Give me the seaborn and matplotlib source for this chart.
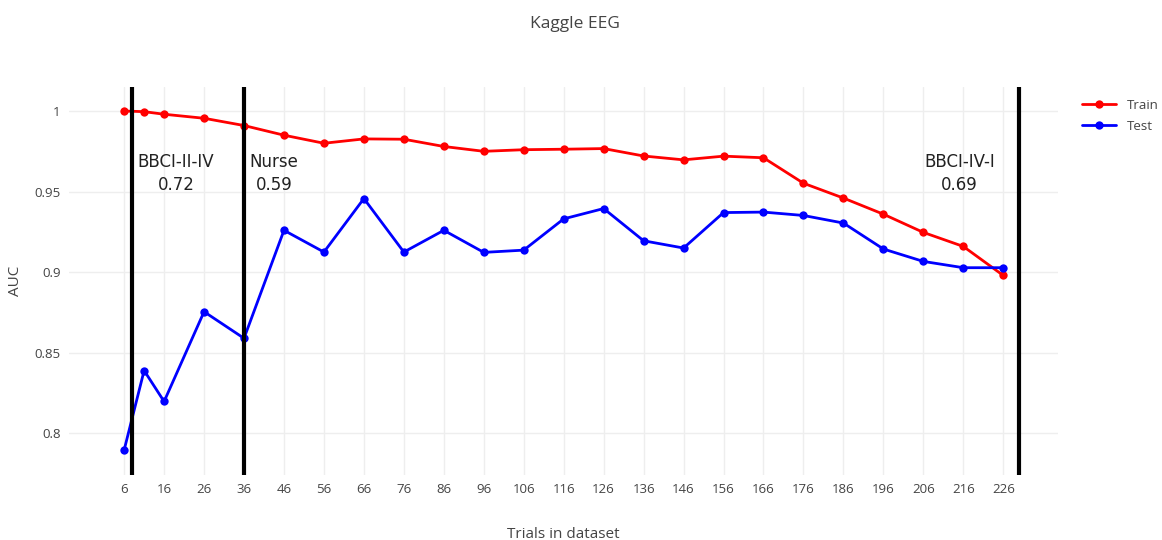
import matplotlib
matplotlib.use("Agg")
import matplotlib.pyplot as plt
from matplotlib.font_manager import FontProperties
import seaborn as sns
import pandas as pd
import numpy as np

trials = [6, 11, 16, 26, 36, 46, 56, 66, 76, 86, 96, 106, 116, 126, 136, 146,
          156, 166, 176, 186, 196, 206, 216, 226]
train_auc = [1.000, 0.9996, 0.998, 0.9955, 0.991, 0.985, 0.980, 0.9827, 0.9825,
             0.978, 0.975, 0.976, 0.9763, 0.9767, 0.9721, 0.9697, 0.972, 0.971,
             0.9552, 0.946, 0.936, 0.9247, 0.916, 0.898]
test_auc = [0.7897, 0.839, 0.8198, 0.8755, 0.859, 0.926, 0.9125, 0.9457, 0.9125,
            0.926, 0.9123, 0.9137, 0.9331, 0.9395, 0.9195, 0.915, 0.937, 0.9373,
            0.9352, 0.9305, 0.9144, 0.9067, 0.9028, 0.9028]
xticks = list(range(6, 227, 10))
yticks = [0.8, 0.85, 0.9, 0.95, 1.0]
ytick_labels = ["0.8", "0.85", "0.9", "0.95", "1"]
boundaries = [8, 36, 230]
ann_x = [19, 43.5, 215]
ann_text = ["BBCI-II-IV\n0.72", "Nurse\n0.59", "BBCI-IV-I\n0.69"]

sns.set_theme(style="white")
plt.rcParams['font.family'] = ['Open Sans', 'DejaVu Sans']

df = pd.DataFrame({
    "Trials": trials * 2,
    "AUC": train_auc + test_auc,
    "Series": ["Train"] * len(trials) + ["Test"] * len(trials),
})

fig = plt.figure(figsize=(11.62, 5.4), dpi=100)
ax = fig.add_axes([69 / 1162, 65 / 540, (1058 - 69) / 1162, (475 - 87) / 540])

sns.lineplot(data=df, x="Trials", y="AUC", hue="Series",
             palette={"Train": "#ff0000", "Test": "#0000ff"},
             marker="o", markersize=6, markeredgewidth=0, linewidth=2,
             ax=ax, zorder=3)

for b in boundaries:
    ax.axvline(b, color="black", linewidth=3, zorder=4)

ann_font = FontProperties(family="DejaVu Sans", size=12)
for x, t in zip(ann_x, ann_text):
    ax.text(x, 0.9615, t, ha="center", va="center", fontproperties=ann_font,
            color="#222222", linespacing=1.35, zorder=5)

ax.set_xlim(-7.8, 239.7)
ax.set_ylim(0.7742, 1.0149)
ax.set_xticks(xticks)
ax.set_xticklabels([str(v) for v in xticks])
ax.set_yticks(yticks)
ax.set_yticklabels(ytick_labels)
ax.grid(True, color="#eeeeee", linewidth=1)
ax.set_axisbelow(True)
for s in ax.spines.values():
    s.set_visible(False)
ax.tick_params(axis="both", length=0, labelsize=9.5, colors="#444444", pad=6)

ax.set_xlabel("Trials in dataset", fontsize=11, color="#444444", labelpad=22)
ax.set_ylabel("AUC", fontsize=11, color="#444444", labelpad=8)
fig.suptitle("Kaggle EEG", x=0.495, y=0.97, fontsize=12.5, color="#444444")

leg = ax.legend(loc="upper left", bbox_to_anchor=(1.012, 1.0), frameon=False,
                fontsize=9.5, handlelength=2.6, labelspacing=0.6, title=None)
for txt in leg.get_texts():
    txt.set_color("#444444")

fig.savefig("out.png", dpi=100)
